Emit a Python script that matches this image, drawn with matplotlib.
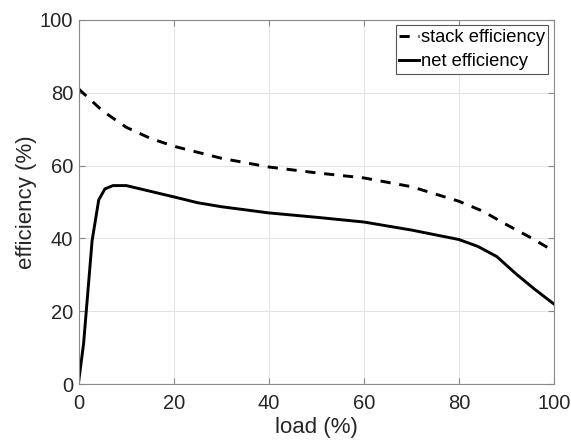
import matplotlib
matplotlib.use("Agg")
import matplotlib.pyplot as plt

plt.rcParams['font.family'] = ['Liberation Sans', 'DejaVu Sans']

load_stack = [0, 5, 10, 15, 20, 30, 40, 50, 60, 70, 80, 85, 90, 95, 100]
stack_eff = [81, 75, 70.5, 67.5, 65.3, 62, 59.6, 58, 56.6, 54.2, 50.2, 47.5, 43.8, 40.3, 36.5]

load_net = [0, 1, 2.8, 4.2, 5.5, 7.2, 10, 20, 25, 30, 40, 50, 60, 70, 80, 84, 88, 92, 96, 100]
net_eff = [1, 11, 39.4, 50.6, 53.6, 54.5, 54.5, 51.4, 49.8, 48.7, 47, 45.8, 44.5, 42.3, 39.7, 37.8, 35, 30.3, 26, 22]

xticks = [0, 20, 40, 60, 80, 100]
yticks = [0, 20, 40, 60, 80, 100]

fig = plt.figure(figsize=(5.71, 4.41), dpi=100)
ax = fig.add_axes([0.138, 0.129, 0.832, 0.826])

ax.plot(load_stack, stack_eff, color='black', lw=2.1, linestyle=(0, (3.5, 3.0)), label='stack efficiency')
ax.plot(load_net, net_eff, color='black', lw=2.1, label='net efficiency')

ax.set_xlim(0, 100)
ax.set_ylim(0, 100)
ax.set_xticks(xticks)
ax.set_yticks(yticks)
ax.grid(True, color='#e3e3e3', lw=0.8)
ax.set_axisbelow(True)
for s in ax.spines.values():
    s.set_color('#8a8a8a')
    s.set_linewidth(0.8)
ax.tick_params(direction='in', top=True, right=True, length=4, color='#8a8a8a',
               labelsize=14.5, labelcolor='#262626')
ax.tick_params(axis='x', pad=7)
ax.tick_params(axis='y', pad=4)
ax.set_xlabel('load (%)', fontsize=16, color='#262626', labelpad=3)
ax.set_ylabel('efficiency (%)', fontsize=16, color='#262626', labelpad=2)

leg = ax.legend(loc='upper right', fontsize=13.2, handlelength=1.05, handletextpad=0.1,
                borderpad=0.2, labelspacing=0.4, fancybox=False, framealpha=1,
                borderaxespad=0.3)
leg.get_frame().set_edgecolor('#555555')
leg.get_frame().set_linewidth(0.8)

fig.savefig('out.png', dpi=100)
